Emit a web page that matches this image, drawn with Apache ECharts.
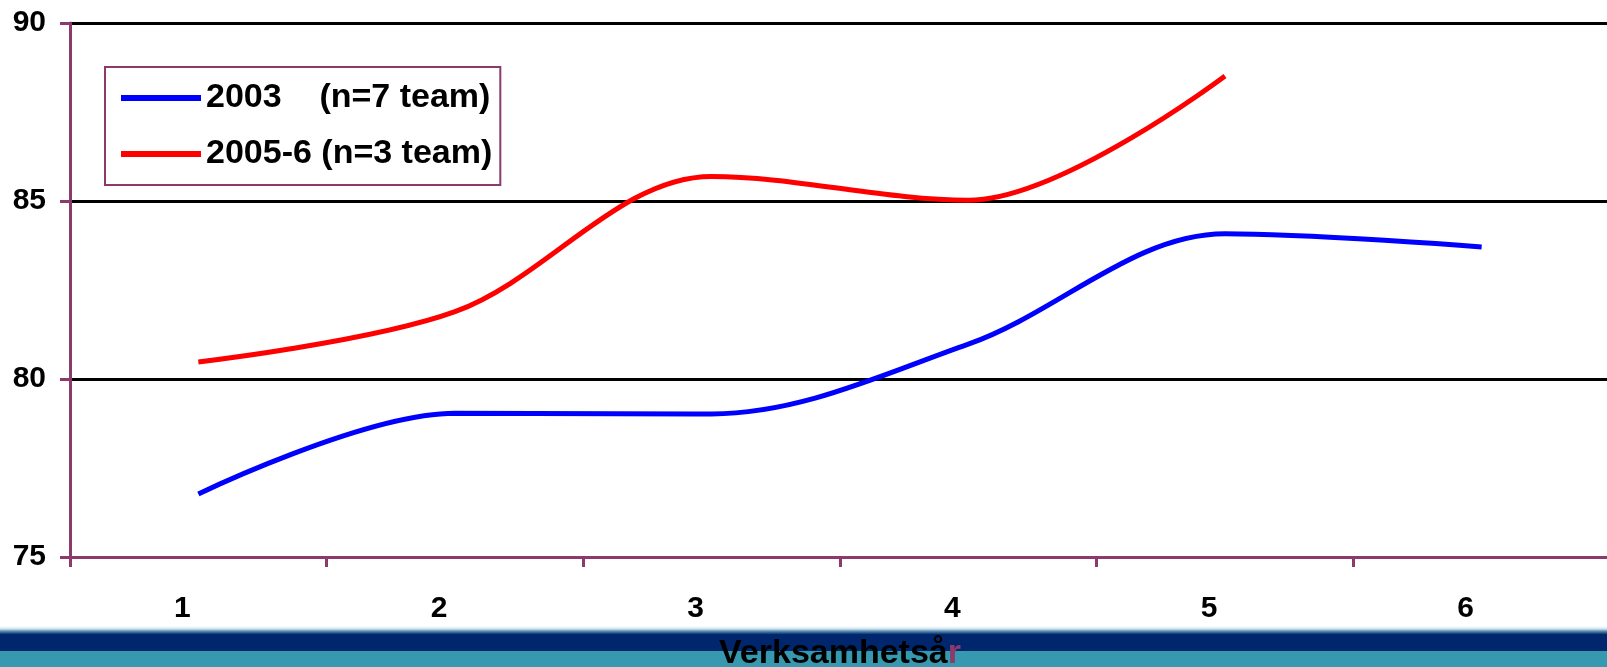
<!DOCTYPE html>
<html>
<head>
<meta charset="utf-8">
<script src="https://cdn.jsdelivr.net/npm/echarts@6/dist/echarts.min.js"></script>
<style>
html,body{margin:0;padding:0;background:#fff;}
#chart{width:1607px;height:667px;}
</style>
</head>
<body>
<div id="chart"></div>
<script>
var categories = ['1', '2', '3', '4', '5', '6'];
var series2003 = [76.77, 79.04, 79.02, 80.98, 84.08, 83.71];
var series2005 = [80.48, 81.89, 85.69, 85.02, 88.51];
var seriesNames = ['2003    (n=7 team)', '2005-6 (n=3 team)'];
var yTicks = {min: 75, max: 90, step: 5};
var axisTitle = 'Verksamhetså{r|r}';

var FONT = "'Liberation Sans', Arial, sans-serif";
var PURPLE = '#8B3A6B';
var chart = echarts.init(document.getElementById('chart'), null, {renderer: 'canvas'});
chart.setOption({
  backgroundColor: '#ffffff',
  animation: false,
  graphic: [
    {type: 'rect', z: -10, shape: {x: 0, y: 626, width: 1607, height: 8},
     style: {fill: new echarts.graphic.LinearGradient(0, 0, 0, 1, [
       {offset: 0, color: '#ffffff'}, {offset: 0.35, color: '#cfe6f2'},
       {offset: 0.7, color: '#4d7fa6'}, {offset: 1, color: '#0a3a73'}])}},
    {type: 'rect', z: -10, shape: {x: 0, y: 634, width: 1607, height: 17}, style: {fill: '#00266E'}},
    {type: 'rect', z: -10, shape: {x: 0, y: 651, width: 1607, height: 16}, style: {fill: '#3799AF'}}
  ],
  grid: {left: 70, right: -3, top: 23, bottom: 110, containLabel: false, outerBoundsMode: 'none'},
  legend: {
    orient: 'vertical',
    left: 105, top: 67,
    padding: [14, 8, 14, 13],
    itemGap: 22,
    itemWidth: 80, itemHeight: 7,
    backgroundColor: '#ffffff',
    borderColor: PURPLE, borderWidth: 2,
    lineStyle: {width: 6},
    textStyle: {fontFamily: FONT, fontWeight: 'bold', fontSize: 34, color: '#000'},
    data: seriesNames
  },
  xAxis: {
    type: 'category',
    data: categories,
    boundaryGap: true,
    z: 3,
    axisLine: {show: true, lineStyle: {color: PURPLE, width: 3}},
    axisTick: {show: true, length: 10, alignWithLabel: false, lineStyle: {color: PURPLE, width: 3}},
    axisLabel: {fontFamily: FONT, fontWeight: 'bold', fontSize: 30, color: '#000', margin: 37, padding: [0, 32, 0, 0]},
    splitLine: {show: false},
    name: axisTitle,
    nameLocation: 'middle',
    nameGap: 97,
    nameTextStyle: {fontFamily: FONT, fontWeight: 'bold', fontSize: 34, color: '#000', verticalAlign: 'middle',
      rich: {r: {fontFamily: FONT, fontWeight: 'bold', fontSize: 34, color: PURPLE}}}
  },
  yAxis: {
    type: 'value',
    min: yTicks.min, max: yTicks.max, interval: yTicks.step,
    z: 2,
    axisLine: {show: true, lineStyle: {color: PURPLE, width: 3}},
    axisTick: {show: true, length: 10, lineStyle: {color: PURPLE, width: 3}},
    axisLabel: {fontFamily: FONT, fontWeight: 'bold', fontSize: 30, color: '#000', margin: 24},
    splitLine: {show: true, lineStyle: {color: '#000', width: 3}}
  },
  series: [
    {name: seriesNames[0], type: 'line', data: series2003, smooth: 0.34, symbol: 'none',
     lineStyle: {color: '#0000FF', width: 5}, itemStyle: {color: '#0000FF'}},
    {name: seriesNames[1], type: 'line', data: series2005, smooth: 0.34, symbol: 'none',
     lineStyle: {color: '#FF0000', width: 5}, itemStyle: {color: '#FF0000'}}
  ]
});
</script>
</body>
</html>
